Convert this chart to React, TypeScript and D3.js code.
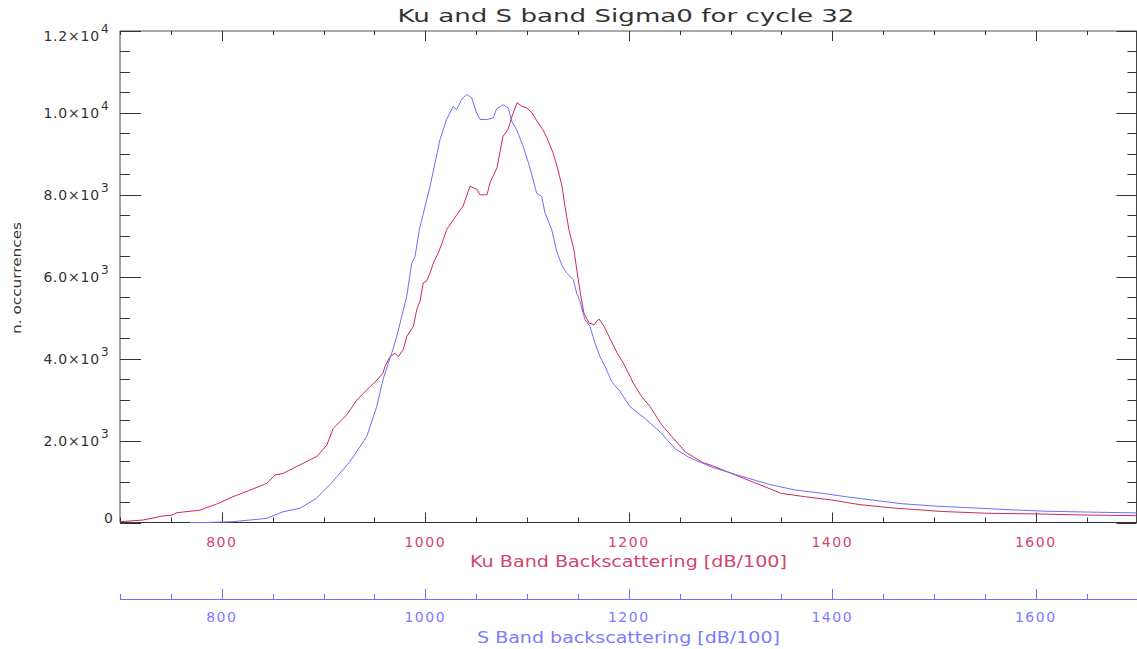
import React from "react";
import * as d3 from "d3";

const TITLE = "Ku and S band Sigma0 for cycle 32";
const KU_TITLE = "Ku Band Backscattering [dB/100]";
const S_TITLE = "S Band backscattering [dB/100]";
const Y_TITLE = "n. occurrences";

const xMajorTicks = [800, 1000, 1200, 1400, 1600];
const yMajorTicks = [0, 2000, 4000, 6000, 8000, 10000, 12000];

// Ku band histogram: [sigma0 dB/100, occurrences]
const kuX = [700, 722.6, 742.3, 751, 756, 778.6, 783.5, 795, 811, 827.8, 844.5, 852.3, 860.5, 870, 886.7, 893.4, 903.3, 909.6, 922.9, 932.8, 942.6, 952.6, 958.5, 960.4, 965.4, 970.3, 973.5, 978.4, 981.8, 988.3, 991.6, 994.8, 998, 1001.3, 1004.7, 1007.9, 1012.8, 1017.6, 1021, 1031.2, 1037.1, 1044, 1050.9, 1053.8, 1060.7, 1063.6, 1070.5, 1076.4, 1081.3, 1085.3, 1090.2, 1095.1, 1100, 1104.9, 1109.8, 1115.7, 1119.6, 1125.5, 1129.5, 1134.4, 1137.3, 1141.2, 1146.1, 1149.4, 1152.7, 1156, 1160.9, 1165.8, 1170.7, 1175.7, 1182.2, 1188.8, 1194.7, 1198, 1204.5, 1212.7, 1220.9, 1232.3, 1244.1, 1255.9, 1272.7, 1282.8, 1299.5, 1316.2, 1350.1, 1373.7, 1400.7, 1427.3, 1461.2, 1508.4, 1552, 1602.2, 1642.5, 1699];
const kuY = [20, 60, 160, 180, 240, 300, 350, 450, 630, 790, 960, 1160, 1200, 1320, 1530, 1610, 1890, 2300, 2630, 2990, 3240, 3480, 3650, 3810, 4050, 4130, 4050, 4220, 4540, 4790, 5190, 5400, 5850, 5890, 6090, 6330, 6580, 6900, 7150, 7520, 7720, 8210, 8130, 8000, 8000, 8290, 8660, 9430, 9590, 9920, 10250, 10160, 10120, 10000, 9800, 9590, 9390, 9030, 8700, 8210, 7720, 7150, 6660, 6090, 5560, 5110, 4870, 4830, 4970, 4790, 4460, 4130, 3890, 3730, 3400, 3070, 2830, 2385, 2050, 1716, 1465, 1380, 1214, 1046, 711, 628, 544, 435, 352, 268, 226, 209, 184, 167];

// S band histogram
const sX = [768.8, 785, 811, 844, 860, 877, 893, 909, 926, 942.5, 952.3, 958.8, 963.7, 967, 972, 976.9, 981.8, 986.7, 990, 994.2, 1004.7, 1009.6, 1014.5, 1021, 1027.5, 1030.8, 1035.8, 1040.7, 1045.6, 1050.5, 1053.8, 1060.4, 1066.8, 1070.1, 1076.6, 1081.6, 1084.9, 1089.8, 1096.3, 1102.9, 1109.5, 1114.4, 1117.7, 1124.3, 1129.2, 1134.1, 1139, 1145.5, 1148.8, 1152.1, 1157, 1161.9, 1166.8, 1171.7, 1176.7, 1183.2, 1191.4, 1201.2, 1215.5, 1232.3, 1245.5, 1259.2, 1282.8, 1299.5, 1316.2, 1339.8, 1363.4, 1390.5, 1414, 1441, 1467.6, 1501.6, 1542, 1575.7, 1609.1, 1659.8, 1699];
const sY = [0, 0, 20, 100, 260, 350, 590, 1000, 1490, 2100, 2830, 3520, 3890, 4130, 4540, 5030, 5520, 6330, 6500, 7150, 8210, 8780, 9350, 9840, 10160, 10080, 10330, 10450, 10370, 10000, 9840, 9840, 9880, 10100, 10200, 10120, 9800, 9590, 9180, 8660, 8040, 7960, 7560, 7150, 6620, 6290, 6090, 5930, 5600, 5400, 4950, 4790, 4380, 4050, 3810, 3440, 3200, 2830, 2550, 2176, 1800, 1590, 1340, 1214, 1088, 920, 795, 711, 628, 544, 460, 400, 352, 310, 276, 251, 234];

const W = 1137;
const H = 649;
const KU_COLOR = "#cc2a5a";
const KU_TEXT = "#d2456f";
const S_COLOR = "#6e6eff";
const S_TEXT = "#7b7bff";
const AX = "#333";
const FONT = "'DejaVu Sans', sans-serif";

export default function App() {
  const left = 120, right = 1137.5, top = 31, bottom = 522.5;
  const x = d3.scaleLinear().domain([700, 1700]).range([left, right]);
  const y = d3.scaleLinear().domain([0, 12000]).range([bottom, top]);
  const kuPath = d3.line<[number, number]>().x((d) => x(d[0])).y((d) => y(d[1]))(kuX.map((v, i) => [v, kuY[i]]));
  const sPath = d3.line<[number, number]>().x((d) => x(d[0])).y((d) => y(d[1]))(sX.map((v, i) => [v, sY[i]]));

  const xMinor = d3.range(700, 1701, 50).filter((v) => !xMajorTicks.includes(v));
  const yMinor = d3.range(0, 12001, 500).filter((v) => !yMajorTicks.includes(v));
  const sAxisY = 599;

  const yLabel = (v: number) => {
    if (v === 0) return { main: "0", sup: "" };
    const e = Math.floor(Math.log10(v));
    const m = v / Math.pow(10, e);
    return { main: m.toFixed(1) + "×10", sup: String(e) };
  };

  return (
    <svg width={W} height={H} style={{ position: "absolute", left: 0, top: 0, background: "#fff" }} fontFamily={FONT}>
      <rect x={0} y={0} width={W} height={H} fill="#fff" />
      <text x={626} y={22} fontSize={17} textAnchor="middle" textLength={457} lengthAdjust="spacingAndGlyphs" fill="#333">{TITLE}</text>

      {/* frame */}
      <line x1={left} x2={right} y1={top} y2={top} stroke="#555" />
      <line x1={left} x2={right} y1={bottom} y2={bottom} stroke={AX} />
      <line x1={left} x2={left} y1={top} y2={bottom} stroke="#444" />
      <line x1={right - 1} x2={right - 1} y1={top} y2={bottom} stroke="#444" />

      {/* x ticks top & bottom */}
      {xMajorTicks.map((v) => (
        <g key={"xm" + v}>
          <line x1={Math.round(x(v)) + 0.5} x2={Math.round(x(v)) + 0.5} y1={bottom} y2={bottom - 10} stroke={AX} />
          <line x1={Math.round(x(v)) + 0.5} x2={Math.round(x(v)) + 0.5} y1={top} y2={top + 10} stroke={AX} />
          <text x={x(v)} y={547} fontSize={14} letterSpacing={1.5} textAnchor="middle" fill={KU_TEXT}>{v}</text>
        </g>
      ))}
      {xMinor.map((v) => (
        <g key={"xn" + v}>
          <line x1={Math.round(x(v)) + 0.5} x2={Math.round(x(v)) + 0.5} y1={bottom} y2={bottom - 5} stroke={AX} />
          <line x1={Math.round(x(v)) + 0.5} x2={Math.round(x(v)) + 0.5} y1={top} y2={top + 4} stroke={AX} />
        </g>
      ))}

      {/* y ticks left & right */}
      {yMajorTicks.map((v) => {
        const yy = Math.round(y(v)) + 0.5;
        const lab = yLabel(v);
        const cy = Math.min(Math.max(y(v), 36), 518);
        return (
          <g key={"ym" + v}>
            <line x1={left} x2={left + 21} y1={yy} y2={yy} stroke={AX} />
            <line x1={right - 1} x2={right - 21} y1={yy} y2={yy} stroke={AX} />
            {lab.sup ? (
              <g>
                <text x={100} y={cy + 5} fontSize={14} textAnchor="end" letterSpacing={0.8} fill="#333">{lab.main}</text>
                <text x={101} y={cy - 3} fontSize={12} textAnchor="start" fill="#333">{lab.sup}</text>
              </g>
            ) : (
              <text x={113} y={cy + 5} fontSize={14} textAnchor="end" fill="#333">{lab.main}</text>
            )}
          </g>
        );
      })}
      {yMinor.map((v) => {
        const yy = Math.round(y(v)) + 0.5;
        return (
          <g key={"yn" + v}>
            <line x1={left} x2={left + 10} y1={yy} y2={yy} stroke={AX} />
            <line x1={right - 1} x2={right - 10} y1={yy} y2={yy} stroke={AX} />
          </g>
        );
      })}

      <text transform={`translate(21,278) rotate(-90)`} fontSize={13} textAnchor="middle" textLength={112} lengthAdjust="spacingAndGlyphs" fill="#333">{Y_TITLE}</text>

      {/* data */}
      <path d={kuPath || ""} fill="none" stroke={KU_COLOR} strokeWidth={1} />
      <path d={sPath || ""} fill="none" stroke={S_COLOR} strokeWidth={1} />

      <text x={628.5} y={567} fontSize={15} textAnchor="middle" textLength={317} lengthAdjust="spacingAndGlyphs" fill={KU_TEXT}>{KU_TITLE}</text>

      {/* S band axis */}
      <line x1={left} x2={right} y1={sAxisY + 0.5} y2={sAxisY + 0.5} stroke={S_COLOR} />
      {xMajorTicks.map((v) => (
        <g key={"sm" + v}>
          <line x1={Math.round(x(v)) + 0.5} x2={Math.round(x(v)) + 0.5} y1={sAxisY} y2={sAxisY - 10} stroke={S_COLOR} />
          <text x={x(v)} y={622} fontSize={14} letterSpacing={1.5} textAnchor="middle" fill={S_TEXT}>{v}</text>
        </g>
      ))}
      {xMinor.map((v) => (
        <line key={"sn" + v} x1={Math.round(x(v)) + 0.5} x2={Math.round(x(v)) + 0.5} y1={sAxisY} y2={sAxisY - 5} stroke={S_COLOR} />
      ))}
      <text x={628.5} y={643} fontSize={15} textAnchor="middle" textLength={303} lengthAdjust="spacingAndGlyphs" fill={S_TEXT}>{S_TITLE}</text>
    </svg>
  );
}
